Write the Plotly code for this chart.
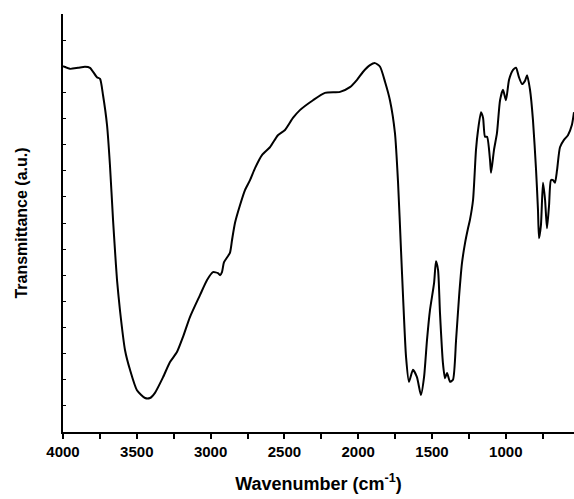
import plotly.graph_objects as go

# FTIR spectrum: wavenumber (cm-1) and transmittance (arbitrary units)
wavenumber = [
    4000, 3953, 3898, 3851, 3817, 3770, 3749, 3729, 3702, 3682, 3661, 3648,
    3634, 3614, 3580, 3546, 3499, 3444, 3411, 3377, 3322, 3275, 3228, 3187,
    3140, 3072, 3024, 2984, 2950, 2936, 2923, 2909, 2869, 2855, 2835, 2801,
    2767, 2733, 2699, 2652, 2598, 2544, 2496, 2442, 2395, 2306, 2225, 2123,
    2056, 2008, 1968, 1920, 1886, 1852, 1818, 1785, 1751, 1730, 1710, 1696,
    1676, 1656, 1629, 1602, 1575, 1554, 1534, 1514, 1486, 1473, 1459, 1446,
    1426, 1412, 1398, 1378, 1358, 1337, 1317, 1297, 1276, 1256, 1243, 1222,
    1202, 1188, 1168, 1154, 1141, 1127, 1107, 1100, 1080, 1060, 1039, 1019,
    999, 978, 951, 931, 911, 890, 870, 856, 836, 816, 795, 782, 775, 762,
    748, 734, 721, 707, 694, 680, 667, 653, 633, 606, 579, 552, 538,
]
transmittance = [
    70.0, 69.5, 69.7, 69.9, 69.7, 67.9, 67.6, 64.5, 58.8, 51.1, 40.6, 34.8,
    29.1, 23.3, 15.7, 11.9, 8.0, 6.5, 6.5, 7.5, 10.5, 13.4, 15.3, 18.2,
    22.0, 26.2, 29.1, 30.6, 30.4, 30.0, 30.6, 32.5, 34.3, 36.7, 40.0, 43.4,
    46.3, 48.2, 50.5, 53.0, 54.5, 56.8, 57.8, 60.1, 61.6, 63.5, 64.9, 65.1,
    66.0, 67.4, 68.9, 70.2, 70.6, 69.9, 67.0, 63.5, 57.2, 47.7, 34.8, 25.8,
    14.4, 9.6, 11.9, 10.5, 7.1, 10.5, 17.6, 23.3, 28.5, 32.7, 31.0, 22.8,
    13.2, 10.3, 11.3, 9.6, 10.0, 17.6, 25.8, 32.3, 36.2, 39.0, 40.6, 44.4,
    54.0, 57.8, 61.2, 60.1, 56.5, 56.5, 52.1, 49.6, 54.0, 57.2, 63.5, 65.5,
    63.5, 67.4, 69.3, 69.7, 67.9, 66.6, 67.2, 68.3, 65.5, 59.7, 50.1, 42.5, 37.1, 39.6,
    47.7, 44.4, 39.0, 43.4, 48.2, 48.2, 47.7, 50.1, 54.5, 55.9, 56.8, 58.8, 61.2,
]

font_family = "Liberation Sans, Arial, sans-serif"

fig = go.Figure()
fig.add_trace(go.Scatter(
    x=wavenumber, y=transmittance, mode="lines",
    line=dict(color="black", width=2, shape="spline", smoothing=0.6),
    hoverinfo="skip", showlegend=False,
))

fig.update_layout(
    width=574, height=499,
    margin=dict(l=63, r=0, t=14, b=67),
    paper_bgcolor="white", plot_bgcolor="white",
    font=dict(family=font_family, color="black"),
)

fig.update_xaxes(
    range=[4000, 538], autorange=False,
    showgrid=False, zeroline=False,
    showline=True, linecolor="black", linewidth=2,
    ticks="outside", ticklen=5, tickwidth=1.5, tickcolor="black",
    tick0=4000, dtick=500,
    minor=dict(ticks="outside", ticklen=5, tickwidth=1.5, tickcolor="black",
               tick0=4000, dtick=250, showgrid=False),
    tickfont=dict(size=15, family=font_family, weight="bold"),
    title=dict(text="Wavenumber (cm<sup>-1</sup>)",
               font=dict(size=18, family=font_family, weight="bold"),
               standoff=18),
)

fig.update_yaxes(
    range=[0, 80], autorange=False,
    showgrid=False, zeroline=False,
    showline=True, linecolor="black", linewidth=1.5,
    ticks="inside", ticklen=3, tickwidth=1, tickcolor="black",
    dtick=5, showticklabels=False,
    title=dict(text="Transmittance (a.u.)",
               font=dict(size=16, family=font_family, weight="bold"),
               standoff=30),
)

fig.write_html("out.html")
